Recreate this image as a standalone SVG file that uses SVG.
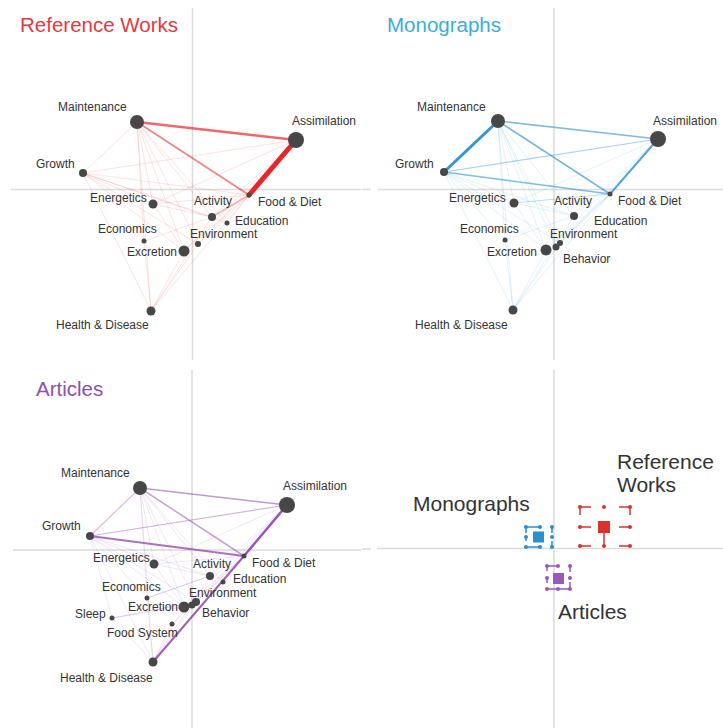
<svg xmlns="http://www.w3.org/2000/svg" width="723" height="728" viewBox="0 0 723 728">
<style>
.ax{stroke:#dcdcdc;stroke-width:1.5;fill:none}
.n{fill:#474747}
.lb{font-family:"Liberation Sans",Arial,sans-serif;font-size:12px;fill:#333}
.tt{font-family:"Liberation Sans",Arial,sans-serif;font-size:20.5px}
.big{font-family:"Liberation Sans",Arial,sans-serif;font-size:21px;fill:#333}
.fr{stroke:#e8262a;stroke-opacity:.13;stroke-width:1;fill:none}
.fb{stroke:#2a8fcf;stroke-opacity:.13;stroke-width:1;fill:none}
.fp{stroke:#8e44ad;stroke-opacity:.13;stroke-width:1;fill:none}
.sr{stroke:#e8262a;fill:none;stroke-linecap:round}
.sb{stroke:#2a8fcf;fill:none;stroke-linecap:round}
.sp{stroke:#8e44ad;fill:none;stroke-linecap:round}
</style>
<rect width="723" height="728" fill="#fff"/>
<g id="axes">
<path class="ax" d="M11,189.5 H361 M192.5,8 V360 M378,189.5 H723 M362,189.5 H371 M554,8 V360 M13,550 H361 M192,370 V728 M377,548.5 H723 M362,549 H371 M554,370 V728"/>
</g>
<text class="tt" x="20" y="32" fill="#e23a3f">Reference Works</text>
<text class="tt" x="387" y="32" fill="#3aaedc">Monographs</text>
<text class="tt" x="36" y="396" fill="#8e4fb0">Articles</text>

<!-- Panel 1: Reference Works -->
<g id="rw-connectors">
<path class="fr" d="M137,122 L83,173 M137,122 L153,204 M137,122 L212,217 M137,122 L144,241 M137,122 L184,251 M137,122 L198,244 M137,122 L227,223 M137,122 L151,311 M83,173 L296,140 M83,173 L249,195 M83,173 L153,204 M83,173 L212,217 M83,173 L184,251 M83,173 L151,311 M83,173 L198,244 M151,311 L184,251 M151,311 L198,244 M151,311 L249,195 M151,311 L144,241 M151,311 L212,217 M153,204 L212,217 M153,204 L249,195 M296,140 L212,217 M296,140 L198,244 M296,140 L153,204 M184,251 L249,195 M198,244 L249,195 M144,241 L212,217 M227,223 L249,195 M296,140 L184,251 M83,173 L227,223 M153,204 L184,251"/>
<path class="sr" stroke-width="1.5" stroke-opacity=".35" d="M212,217 L249,195"/>
<path class="sr" stroke-width="2" stroke-opacity=".55" d="M137,122 L249,195"/>
<path class="sr" stroke-width="2.5" stroke-opacity=".7" d="M137,122 L296,140"/>
<path class="sr" stroke-width="5" d="M296,140 L249,195"/>
</g>
<g id="rw-maintenance"><circle class="n" cx="137" cy="122" r="7"/><text class="lb" x="58" y="111">Maintenance</text></g>
<g id="rw-assimilation"><circle class="n" cx="296" cy="140" r="8"/><text class="lb" x="292" y="125">Assimilation</text></g>
<g id="rw-growth"><circle class="n" cx="83" cy="173" r="4"/><text class="lb" x="36" y="168">Growth</text></g>
<g id="rw-energetics"><circle class="n" cx="153" cy="204" r="4.5"/><text class="lb" x="90" y="202">Energetics</text></g>
<g id="rw-activity"><circle class="n" cx="212" cy="217" r="4"/><text class="lb" x="194" y="205">Activity</text></g>
<g id="rw-food-diet"><circle class="n" cx="249" cy="195" r="2.5"/><text class="lb" x="258" y="206">Food &amp; Diet</text></g>
<g id="rw-education"><circle class="n" cx="227" cy="223" r="2.5"/><text class="lb" x="235" y="225">Education</text></g>
<g id="rw-economics"><circle class="n" cx="144" cy="241" r="2.5"/><text class="lb" x="98" y="233">Economics</text></g>
<g id="rw-environment"><circle class="n" cx="198" cy="244" r="3"/><text class="lb" x="190" y="238">Environment</text></g>
<g id="rw-excretion"><circle class="n" cx="184" cy="251" r="5.5"/><text class="lb" x="127" y="256">Excretion</text></g>
<g id="rw-health"><circle class="n" cx="151" cy="311" r="4.5"/><text class="lb" x="56" y="329">Health &amp; Disease</text></g>

<!-- Panel 2: Monographs -->
<g id="mo-connectors">
<path class="fb" d="M498,121 L514,203 M498,121 L574,216 M498,121 L505,240 M498,121 L546,250 M498,121 L560,243 M498,121 L513,310 M498,121 L556,247 M444,172 L514,203 M444,172 L574,216 M444,172 L546,250 M444,172 L513,310 M444,172 L560,243 M444,172 L505,240 M513,310 L546,250 M513,310 L560,243 M513,310 L610,194 M513,310 L505,240 M513,310 L574,216 M514,203 L574,216 M658,139 L574,216 M658,139 L560,243 M658,139 L514,203 M546,250 L610,194 M560,243 L610,194 M505,240 L574,216 M658,139 L546,250 M514,203 L546,250 M556,247 L610,194"/>
<path class="sb" stroke-width="1" stroke-opacity=".3" d="M514,203 L610,194"/>
<path class="sb" stroke-width="1.2" stroke-opacity=".4" d="M444,172 L658,139"/>
<path class="sb" stroke-width="1.5" stroke-opacity=".6" d="M444,172 L610,194"/>
<path class="sb" stroke-width="1.5" stroke-opacity=".6" d="M498,121 L658,139"/>
<path class="sb" stroke-width="1.5" stroke-opacity=".65" d="M498,121 L610,194"/>
<path class="sb" stroke-width="2" stroke-opacity=".8" d="M658,139 L610,194"/>
<path class="sb" stroke-width="3" stroke-opacity=".95" d="M498,121 L444,172"/>
</g>
<g id="mo-maintenance"><circle class="n" cx="498" cy="121" r="7"/><text class="lb" x="417" y="111">Maintenance</text></g>
<g id="mo-assimilation"><circle class="n" cx="658" cy="139" r="8"/><text class="lb" x="653" y="125">Assimilation</text></g>
<g id="mo-growth"><circle class="n" cx="444" cy="172" r="4"/><text class="lb" x="395" y="168">Growth</text></g>
<g id="mo-energetics"><circle class="n" cx="514" cy="203" r="4.5"/><text class="lb" x="449" y="202">Energetics</text></g>
<g id="mo-activity"><circle class="n" cx="574" cy="216" r="4"/><text class="lb" x="554" y="205">Activity</text></g>
<g id="mo-food-diet"><circle class="n" cx="610" cy="194" r="2.5"/><text class="lb" x="618" y="205">Food &amp; Diet</text></g>
<g id="mo-education"><text class="lb" x="594" y="225">Education</text></g>
<g id="mo-economics"><circle class="n" cx="505" cy="240" r="2.5"/><text class="lb" x="460" y="233">Economics</text></g>
<g id="mo-environment"><circle class="n" cx="560" cy="243" r="3"/><text class="lb" x="550" y="238">Environment</text></g>
<g id="mo-behavior"><circle class="n" cx="556" cy="247" r="3.5"/><text class="lb" x="563" y="263">Behavior</text></g>
<g id="mo-excretion"><circle class="n" cx="546" cy="250" r="5.5"/><text class="lb" x="487" y="256">Excretion</text></g>
<g id="mo-health"><circle class="n" cx="513" cy="310" r="4.5"/><text class="lb" x="415" y="329">Health &amp; Disease</text></g>

<!-- Panel 3: Articles -->
<g id="ar-connectors">
<path class="fp" d="M140,488 L154,564 M140,488 L210,576 M140,488 L147,598 M140,488 L184,607 M140,488 L196,602 M140,488 L223,582 M140,488 L153,662 M90,536 L154,564 M90,536 L210,576 M90,536 L184,607 M90,536 L153,662 M90,536 L196,602 M90,536 L147,598 M153,662 L184,607 M153,662 L196,602 M153,662 L147,598 M153,662 L210,576 M153,662 L172,624 M154,564 L210,576 M154,564 L244,556 M287,505 L210,576 M287,505 L196,602 M287,505 L154,564 M184,607 L244,556 M196,602 L244,556 M223,582 L244,556 M287,505 L184,607 M154,564 L184,607 M112,618 L184,607 M172,624 L244,556 M112,618 L153,662 M90,536 L112,618"/>
<path class="sp" stroke-width="1" stroke-opacity=".3" d="M147,598 L210,576"/>
<path class="sp" stroke-width="1" stroke-opacity=".25" d="M112,618 L196,602"/>
<path class="sp" stroke-width="1.2" stroke-opacity=".35" d="M140,488 L90,536"/>
<path class="sp" stroke-width="1.2" stroke-opacity=".4" d="M90,536 L287,505"/>
<path class="sp" stroke-width="1.5" stroke-opacity=".5" d="M140,488 L244,556"/>
<path class="sp" stroke-width="1.5" stroke-opacity=".55" d="M140,488 L287,505"/>
<path class="sp" stroke-width="2" stroke-opacity=".75" d="M90,536 L244,556"/>
<path class="sp" stroke-width="2" stroke-opacity=".85" d="M244,556 L153,662"/>
<path class="sp" stroke-width="2.5" stroke-opacity=".9" d="M287,505 L244,556"/>
</g>
<g id="ar-maintenance"><circle class="n" cx="140" cy="488" r="7"/><text class="lb" x="61" y="477">Maintenance</text></g>
<g id="ar-assimilation"><circle class="n" cx="287" cy="505" r="8"/><text class="lb" x="283" y="490">Assimilation</text></g>
<g id="ar-growth"><circle class="n" cx="90" cy="536" r="4"/><text class="lb" x="42" y="530">Growth</text></g>
<g id="ar-energetics"><circle class="n" cx="154" cy="564" r="4.5"/><text class="lb" x="93" y="562">Energetics</text></g>
<g id="ar-activity"><circle class="n" cx="210" cy="576" r="4"/><text class="lb" x="193" y="568">Activity</text></g>
<g id="ar-food-diet"><circle class="n" cx="244" cy="556" r="2.5"/><text class="lb" x="252" y="567">Food &amp; Diet</text></g>
<g id="ar-education"><circle class="n" cx="223" cy="582" r="2.5"/><text class="lb" x="233" y="583">Education</text></g>
<g id="ar-economics"><circle class="n" cx="147" cy="598" r="2.5"/><text class="lb" x="102" y="591">Economics</text></g>
<g id="ar-environment"><circle class="n" cx="196" cy="602" r="4"/><text class="lb" x="189" y="597">Environment</text></g>
<g id="ar-behavior"><circle class="n" cx="192" cy="605" r="3.5"/><text class="lb" x="202" y="617">Behavior</text></g>
<g id="ar-excretion"><circle class="n" cx="184" cy="607" r="5.5"/><text class="lb" x="128" y="611">Excretion</text></g>
<g id="ar-sleep"><circle class="n" cx="112" cy="618" r="2.5"/><text class="lb" x="75" y="618">Sleep</text></g>
<g id="ar-food-system"><circle class="n" cx="172" cy="624" r="2.5"/><text class="lb" x="107" y="637">Food System</text></g>
<g id="ar-health"><circle class="n" cx="153" cy="662" r="4.5"/><text class="lb" x="60" y="682">Health &amp; Disease</text></g>

<!-- Panel 4: summary glyphs -->
<g id="sum-reference-works">
<g stroke="#d9332f" stroke-width="1.5" fill="none">
<path d="M580,507 H591 M580,507 V515 M619,507 H630 V515 M580,527 H591 M619,527 H630 M604,533 V546 M580,546 H591 M619,546 H630"/>
</g>
<g fill="#d9332f">
<circle cx="580" cy="507" r="2"/><circle cx="604" cy="507" r="2"/><circle cx="630" cy="507" r="2"/>
<circle cx="580" cy="527" r="2"/><circle cx="630" cy="527" r="2"/>
<circle cx="580" cy="546" r="2"/><circle cx="604" cy="546" r="2"/><circle cx="630" cy="546" r="2"/>
<rect x="598" y="521" width="12" height="12"/>
</g>
<text class="big" x="617" y="469">Reference</text>
<text class="big" x="617" y="492">Works</text>
</g>
<g id="sum-monographs">
<g stroke="#2a8fcf" stroke-width="1.5" fill="none">
<path d="M526,527 H540 M526,527 V533 M552,527 V533 M526,537 V541 M526,547 H540 M552,541 V547"/>
</g>
<g fill="#2a8fcf">
<circle cx="526" cy="527" r="2"/><circle cx="540" cy="527" r="2"/><circle cx="552" cy="527" r="2"/>
<circle cx="526" cy="537" r="2"/><circle cx="552" cy="537" r="2"/>
<circle cx="526" cy="547" r="2"/><circle cx="540" cy="547" r="2"/><circle cx="552" cy="547" r="2"/>
<rect x="533" y="531.5" width="11" height="11"/>
</g>
<text class="big" x="413" y="511">Monographs</text>
</g>
<g id="sum-articles">
<g stroke="#9b59b6" stroke-width="1.5" fill="none">
<path d="M547,566 H558 M547,566 V571 M570,566 V572 M547,578 V583 M547,589 H570 M570,582 V589"/>
</g>
<g fill="#9b59b6">
<circle cx="547" cy="566" r="2"/><circle cx="558" cy="566" r="2"/><circle cx="570" cy="566" r="2"/>
<circle cx="547" cy="578" r="2"/><circle cx="570" cy="578" r="2"/>
<circle cx="547" cy="589" r="2"/><circle cx="558" cy="589" r="2"/><circle cx="570" cy="589" r="2"/>
<rect x="553" y="573" width="11" height="11"/>
</g>
<text class="big" x="558" y="619">Articles</text>
</g>
</svg>
